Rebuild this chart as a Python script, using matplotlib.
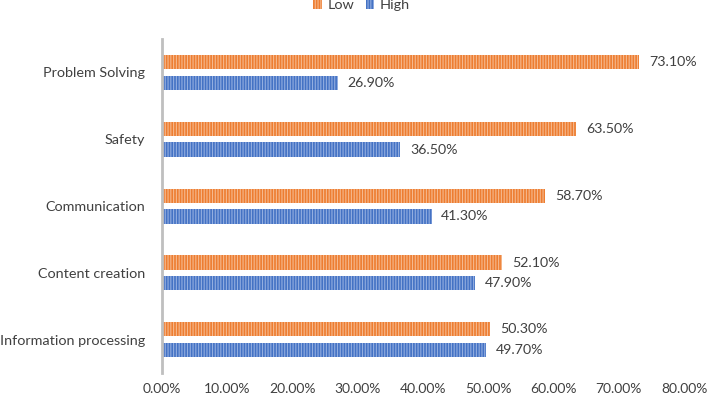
import matplotlib.pyplot as plt
import numpy as np

plt.rcParams['font.family'] = ['Lato', 'DejaVu Sans']
plt.rcParams['hatch.linewidth'] = 0.8

# data (bottom to top)
categories = ["Information processing", "Content creation", "Communication",
              "Safety", "Problem Solving"]
low = [50.3, 52.1, 58.7, 63.5, 73.1]
high = [49.7, 47.9, 41.3, 36.5, 26.9]
xticks = np.arange(0, 81, 10)

orange = "#ED7D31"
blue = "#4472C4"
txt = "#404040"

fig = plt.figure(figsize=(7.09, 3.99), dpi=100)
ax = fig.add_axes([0.2285, 0.065, 0.965 - 0.2285, 0.837])

y = np.arange(len(categories))
h = 0.215
off = 0.155
b1 = ax.barh(y + off, low, h, color=orange, edgecolor="#F6B98E",
             hatch="||||||", linewidth=0, label="Low")
b2 = ax.barh(y - off, high, h, color=blue, edgecolor="#93AEE0",
             hatch="||||||", linewidth=0, label="High")

for bars, vals in [(b1, low), (b2, high)]:
    for rect, v in zip(bars, vals):
        ax.text(v + 1.5, rect.get_y() + rect.get_height() / 2, f"{v:.2f}%",
                va="center", ha="left", fontsize=10.2, color=txt)

ax.set_xlim(0, 80)
ax.set_ylim(-0.5, 4.5)
ax.set_xticks(xticks)
ax.set_xticklabels([f"{t:.2f}%" for t in xticks])
ax.set_yticks(y)
ax.set_yticklabels(categories)
ax.tick_params(axis="both", length=0, colors=txt)
ax.tick_params(axis="y", pad=12, labelsize=10.4)
ax.tick_params(axis="x", pad=7, labelsize=10)
for s in ["top", "right", "bottom"]:
    ax.spines[s].set_visible(False)
ax.spines["left"].set_color("#BFBFBF")
ax.spines["left"].set_linewidth(2)

fig.legend(handles=[b1, b2], loc="upper center", bbox_to_anchor=(0.51, 1.035),
           ncol=2, frameon=False, fontsize=10.4, handlelength=0.6,
           handleheight=0.6, handletextpad=0.4, columnspacing=0.8,
           labelcolor=txt)

fig.savefig("out.png", dpi=100)
